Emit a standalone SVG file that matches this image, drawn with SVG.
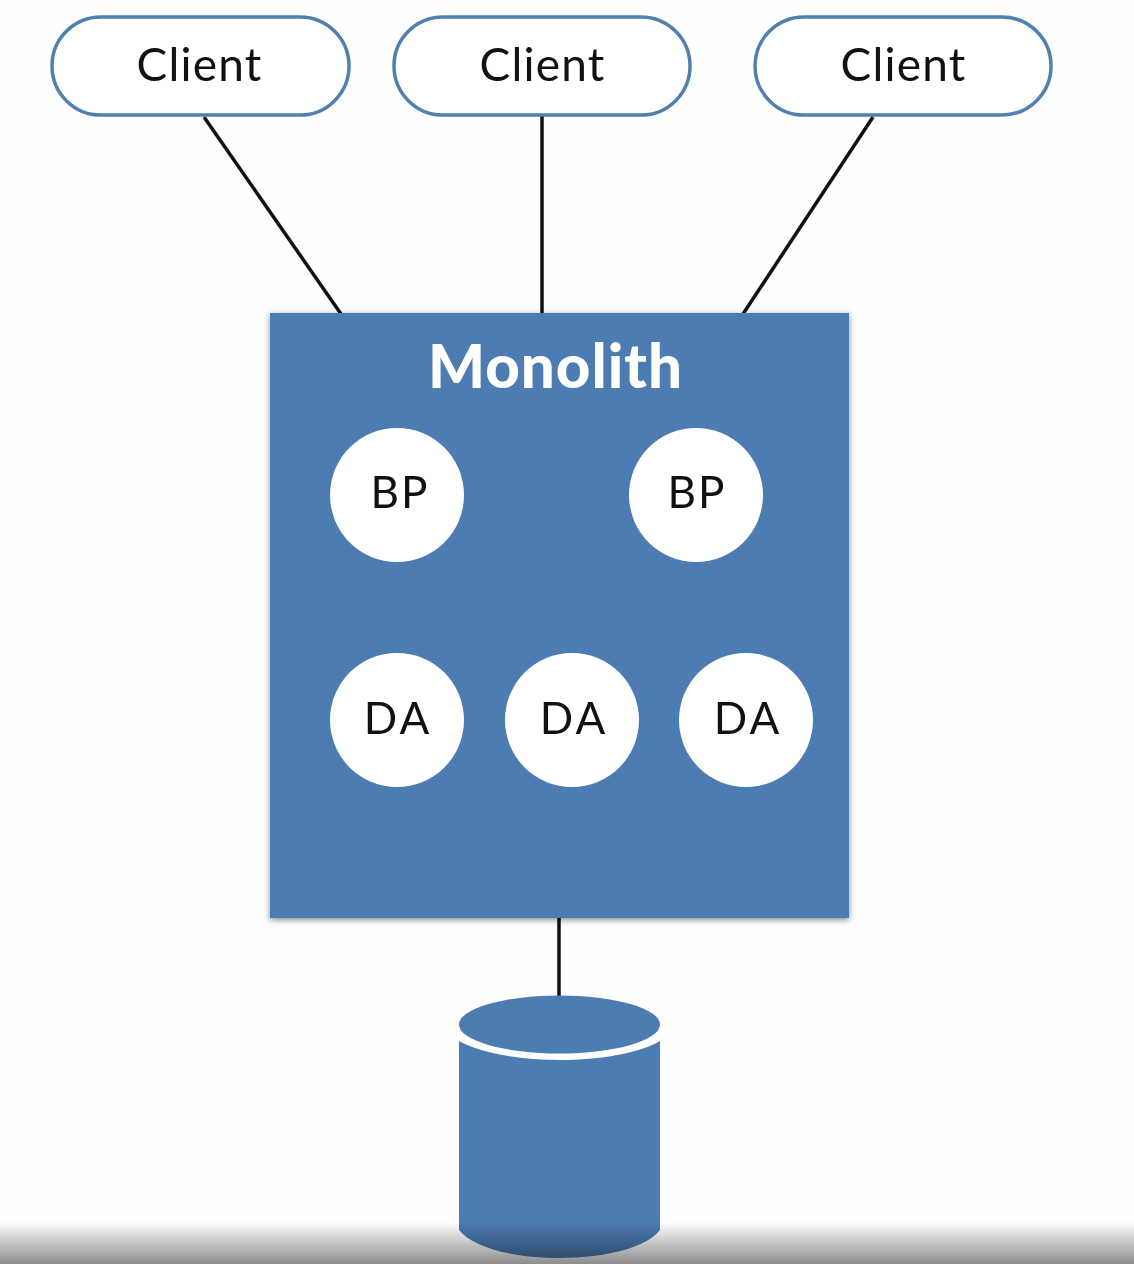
<svg xmlns="http://www.w3.org/2000/svg" width="1134" height="1264" viewBox="0 0 1134 1264">
<defs>
<linearGradient id="fade" x1="0" y1="0" x2="0" y2="1"><stop offset="0" stop-color="#fff"/><stop offset="1" stop-color="#8e8e8e"/></linearGradient>
<filter id="sh" x="-5%" y="-5%" width="110%" height="110%"><feDropShadow dx="0" dy="2" stdDeviation="3" flood-color="#000" flood-opacity="0.45"/></filter>
</defs>
<style>
.client{fill:#fff;stroke:#5080ad;stroke-width:3.500}
.conn{stroke:#111;stroke-width:3.500;fill:none}
.c{fill:#fff}
.t{font-family:"Lato","Open Sans",sans-serif;text-anchor:middle;fill:#111}
.cl{font-size:46px;letter-spacing:1.200px}
.bp{font-size:44px;letter-spacing:2px}
.da{font-size:44px;letter-spacing:3px}
.blue{fill:#4d7cb2}
</style>
<rect width="1134" height="1264" fill="#fefefe"/>
<g id="connectors">
<line class="conn" x1="204" y1="117" x2="341" y2="314"/>
<line class="conn" x1="542" y1="116" x2="542" y2="314"/>
<line class="conn" x1="873" y1="117" x2="743" y2="314"/>
<line class="conn" x1="559" y1="916" x2="559" y2="998"/>
</g>
<g id="client1"><rect class="client" x="52" y="17" width="297" height="98" rx="49"/><text class="t cl" x="199.500" y="81">Client</text></g>
<g id="client2"><rect class="client" x="394" y="17" width="296" height="98" rx="49"/><text class="t cl" x="542.500" y="81">Client</text></g>
<g id="client3"><rect class="client" x="755" y="17" width="296" height="98" rx="49"/><text class="t cl" x="903.500" y="81">Client</text></g>
<g id="monolith"><rect class="blue" x="270" y="313" width="579" height="605" filter="url(#sh)"/><text x="555.500" y="388" font-family="Lato,'Open Sans',sans-serif" font-weight="900" font-size="60" letter-spacing="1" text-anchor="middle" fill="#fff">Monolith</text></g>
<g id="bp1"><circle class="c" cx="397" cy="495" r="67"/><text class="t bp" x="400" y="508">BP</text></g>
<g id="bp2"><circle class="c" cx="696" cy="495" r="67"/><text class="t bp" x="697" y="508">BP</text></g>
<g id="da1"><circle class="c" cx="397" cy="720" r="67"/><text class="t da" x="398" y="734">DA</text></g>
<g id="da2"><circle class="c" cx="572" cy="720" r="67"/><text class="t da" x="574" y="734">DA</text></g>
<g id="da3"><circle class="c" cx="746" cy="720" r="67"/><text class="t da" x="748" y="734">DA</text></g>
<g id="database">
<path class="blue" d="M459 1041C480 1053 520 1060 559.500 1060C600 1060 640 1053 660 1041V1230C647 1247 607 1258 559.500 1258C512 1258 472 1247 459 1230Z"/>
<ellipse class="blue" cx="559.500" cy="1024.500" rx="100.500" ry="29"/>
</g>
<rect id="fade-band" x="0" y="1222" width="1134" height="42" fill="url(#fade)" style="mix-blend-mode:multiply"/>
</svg>
